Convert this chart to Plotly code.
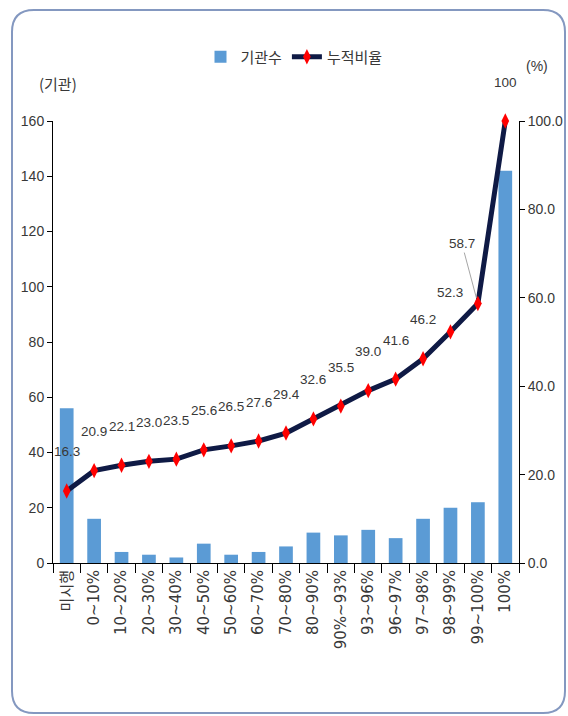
import plotly.graph_objects as go

categories = ["미시행", "0~10%", "10~20%", "20~30%", "30~40%", "40~50%", "50~60%",
              "60~70%", "70~80%", "80~90%", "90%~93%", "93~96%", "96~97%",
              "97~98%", "98~99%", "99~100%", "100%"]
counts = [56, 16, 4, 3, 2, 7, 3, 4, 6, 11, 10, 12, 9, 16, 20, 22, 142]
cum_ratio = [16.3, 20.9, 22.1, 23.0, 23.5, 25.6, 26.5, 27.6, 29.4, 32.6, 35.5,
             39.0, 41.6, 46.2, 52.3, 58.7, 100]
left_ticks = [0, 20, 40, 60, 80, 100, 120, 140, 160]
right_ticks = [0, 20, 40, 60, 80, 100]

W, H = 568, 716
ML, MR, MT, MB = 53, 49, 121, 153
PW, PH = W - ML - MR, H - MT - MB

NUM = "Liberation Sans, Roboto, Noto Sans CJK KR, sans-serif"
WIDE = "DejaVu Sans, Noto Sans CJK KR, sans-serif"
TXT = "#383838"

fig = go.Figure()
fig.add_trace(go.Bar(
    x=categories, y=counts, name="기관수",
    marker=dict(color="#5b9bd5", line=dict(width=0)),
    yaxis="y"))
fig.add_trace(go.Scatter(
    x=categories, y=cum_ratio, name="누적비율", mode="lines+markers",
    line=dict(color="#0f1a45", width=5),
    marker=dict(symbol="diamond-tall", color="#ff0000", size=11,
                line=dict(width=0)),
    yaxis="y2", cliponaxis=False))

annotations = []
for i, (c, v) in enumerate(zip(categories, cum_ratio)):
    txt = "100" if v == 100 else f"{v:.1f}"
    if i == len(categories) - 2:
        annotations.append(dict(
            x=c, y=v, xref="x", yref="y2", text=txt, showarrow=True,
            ax=-16, ay=-60, arrowhead=0, arrowwidth=1, arrowcolor="#a6a6a6",
            standoff=6, font=dict(family=NUM, size=13.5, color=TXT)))
    else:
        annotations.append(dict(
            x=c, y=v, xref="x", yref="y2", text=txt, showarrow=False,
            xanchor="center", yshift=39, font=dict(family=NUM, size=13.5, color=TXT)))

annotations.append(dict(x=(58 - ML) / PW, y=(H - MB - 83) / PH, xref="paper", yref="paper",
                        xanchor="center", yanchor="middle",
                        text="(기관)", showarrow=False,
                        font=dict(family="Noto Sans CJK KR, sans-serif", size=15, color=TXT)))
annotations.append(dict(x=(537 - ML) / PW, y=(H - MB - 66) / PH, xref="paper", yref="paper",
                        xanchor="center", yanchor="middle",
                        text="(%)", showarrow=False,
                        font=dict(family=NUM, size=14, color=TXT)))


def fx(x):
    return (x - ML) / PW


def fy(y):
    return (H - MB - y) / PH


x0, x1, y0, y1, r = 12, 565, 10, 713, 22
path = (f"M {fx(x0 + r)},{fy(y0)} L {fx(x1 - r)},{fy(y0)} "
        f"Q {fx(x1)},{fy(y0)} {fx(x1)},{fy(y0 + r)} L {fx(x1)},{fy(y1 - r)} "
        f"Q {fx(x1)},{fy(y1)} {fx(x1 - r)},{fy(y1)} L {fx(x0 + r)},{fy(y1)} "
        f"Q {fx(x0)},{fy(y1)} {fx(x0)},{fy(y1 - r)} L {fx(x0)},{fy(y0 + r)} "
        f"Q {fx(x0)},{fy(y0)} {fx(x0 + r)},{fy(y0)} Z")

fig.update_layout(
    width=W, height=H,
    margin=dict(l=ML, r=MR, t=MT, b=MB, autoexpand=False),
    paper_bgcolor="white", plot_bgcolor="white",
    bargap=0.5,
    showlegend=True,
    legend=dict(orientation="h", x=fx(294), y=fy(57), xanchor="center", yanchor="middle",
                font=dict(family="Noto Sans CJK KR, sans-serif", size=15, color=TXT),
                bgcolor="rgba(0,0,0,0)", traceorder="normal"),
    xaxis=dict(type="category", range=[-0.5, len(categories) - 0.5], autorange=False,
               tickangle=-90, tickson="boundaries", ticks="outside",
               ticklen=9, tickcolor="black", showline=True, linecolor="black",
               linewidth=1, showgrid=False, automargin=False,
               tickfont=dict(family=WIDE, size=15, color=TXT)),
    yaxis=dict(range=[0, 160], tickvals=left_ticks, ticks="outside", ticklen=5,
               tickcolor="black", showline=True, linecolor="black", linewidth=1,
               showgrid=False, zeroline=False, automargin=False,
               tickfont=dict(family=NUM, size=14, color=TXT)),
    yaxis2=dict(range=[0, 100], tickvals=right_ticks, tickformat=".1f", overlaying="y",
                side="right", ticks="outside", ticklen=5, tickcolor="black",
                showline=True, linecolor="black", linewidth=1, showgrid=False,
                zeroline=False, automargin=False,
                tickfont=dict(family=NUM, size=14, color=TXT)),
    annotations=annotations,
    shapes=[dict(type="path", path=path, xref="paper", yref="paper",
                 line=dict(color="#8498c0", width=2), layer="below")],
)

fig.write_html("out.html")
